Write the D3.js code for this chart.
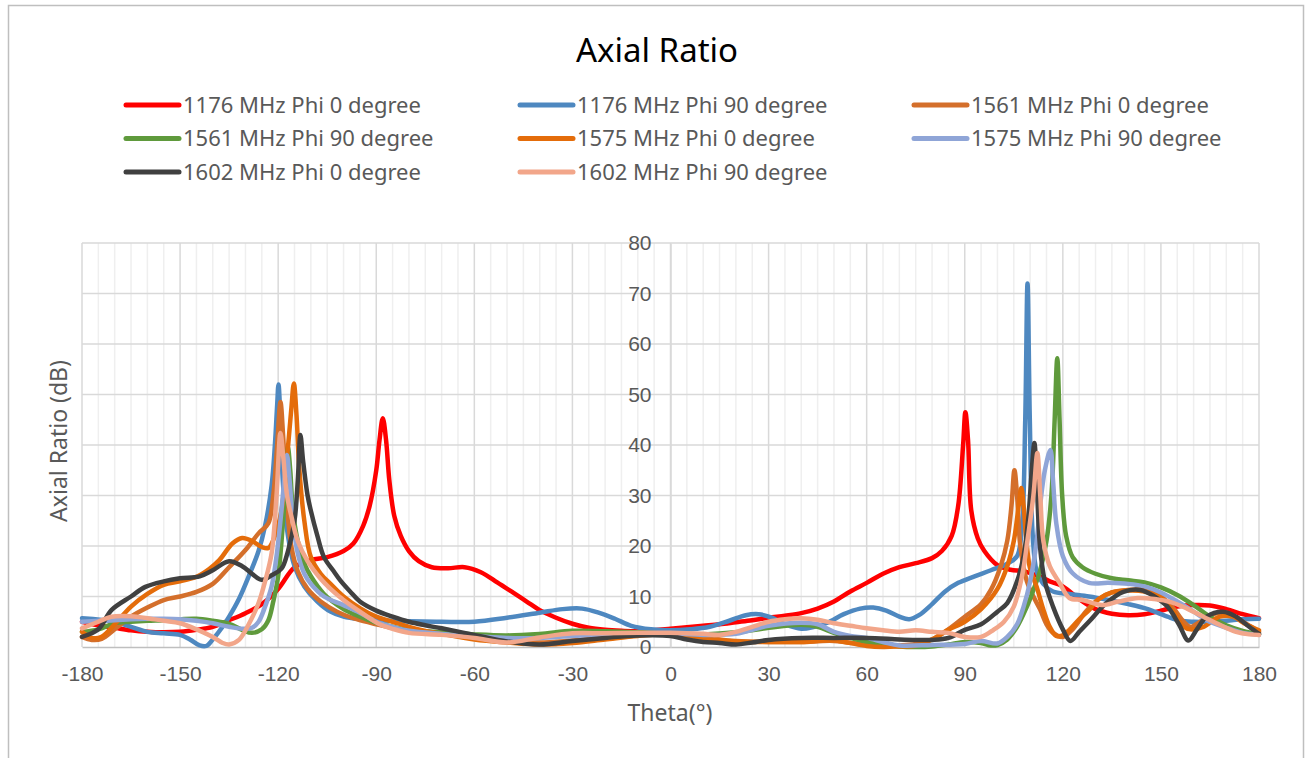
<!DOCTYPE html>
<html>
<head>
<meta charset="utf-8">
<script src="https://cdn.jsdelivr.net/npm/d3@7"></script>
<style>
body { margin: 0; background: #fff; }
svg { font-family: "Noto Sans", sans-serif; }
.tick text { fill: #595959; font-size: 21px; }
.legend text { fill: #595959; font-size: 22px; }
.axistitle { fill: #595959; font-size: 23px; }
</style>
</head>
<body>
<svg id="chart" width="1310" height="758"></svg>
<script>
// chart data
var thetaTicks = [-180, -150, -120, -90, -60, -30, 0, 30, 60, 90, 120, 150, 180];
var arTicks = [0, 10, 20, 30, 40, 50, 60, 70, 80];

var seriesNames = ['1176 MHz Phi 0 degree', '1176 MHz Phi 90 degree', '1561 MHz Phi 0 degree',
                   '1561 MHz Phi 90 degree', '1575 MHz Phi 0 degree', '1575 MHz Phi 90 degree',
                   '1602 MHz Phi 0 degree', '1602 MHz Phi 90 degree'];
var seriesColors = ['#ff0000', '#4e88c0', '#d46f2b', '#5f9a3c', '#e46c0a', '#8fa5d7', '#404040', '#f2a68a'];

// [theta, axial ratio dB]
var ar1176phi0 = [[-180,5],[-175,4.3],[-170,3.8],[-165,3.3],[-160,3],[-155,2.9],[-150,3],[-145,3.4],[-140,4],
  [-135,5.3],[-130,6.7],[-125,8.5],[-120,11.5],[-115,15.8],[-110,17.2],[-105,17.8],[-100,19],[-97,20.5],
  [-94,24],[-92,28],[-90,35],[-89,41],[-88,45.3],[-87,41],[-86,33],[-84.5,26],[-82.5,22],[-80,19],[-77,17],
  [-73,15.8],[-68,15.6],[-63,15.8],[-58,14.8],[-53,12.8],[-48,10.7],[-44,9],[-40,7.3],[-35,5.8],[-30,4.6],
  [-25,3.8],[-20,3.4],[-15,3.2],[-10,3.1],[-5,3.3],[0,3.6],[5,3.9],[10,4.2],[15,4.5],[20,4.9],[25,5.3],
  [30,5.8],[35,6.2],[40,6.7],[45,7.6],[50,9],[55,11],[60,12.7],[65,14.5],[70,15.8],[75,16.6],[80,17.6],
  [83,19],[86,22],[88,28],[89.5,40],[90.2,46.5],[91,41],[92,27],[94,21.5],[96,19],[100,16.2],[104,15.3],
  [108,15],[112,14.2],[116,13],[120,12],[125,9.5],[130,7.5],[135,6.6],[140,6.3],[145,6.5],[150,7.2],
  [155,8],[160,8.3],[165,8.2],[170,7.5],[175,6.5],[180,5.7]];

var ar1176phi90 = [[-180,5.7],[-170,5],[-165,4],[-160,3],[-155,2.7],[-150,2.4],[-147,1.5],[-144,0.3],
  [-142,0.2],[-140,1.5],[-137,4],[-135,6],[-132,9.5],[-129,14],[-126,19],[-124,24],[-122,32],[-121,40],
  [-120.3,48],[-119.9,52],[-119.3,45],[-118.5,32],[-117,22],[-115,16],[-112,12],[-108,9],[-104,7],[-100,6],
  [-95,5.5],[-90,5.3],[-80,5.1],[-70,5],[-60,5],[-50,5.8],[-40,6.8],[-33,7.5],[-27,7.6],[-22,6.8],[-17,5.6],
  [-12,4.2],[-6,3.5],[0,3.3],[6,3.5],[12,4],[18,5.2],[23,6.3],[27,6.5],[31,5.8],[35,4.5],[40,3.6],[44,4],
  [48,4.8],[53,6.5],[58,7.6],[62,7.8],[66,7.2],[70,6],[73,5.5],[76,6.3],[80,8.5],[84,11],[88,12.7],[93,14],
  [98,15.2],[103,16.5],[106,18],[107.5,24],[108.5,45],[109.2,72],[109.9,45],[110.8,22],[112,15],[114,12.5],
  [117,11],[122,10.5],[128,10],[134,9.3],[140,8.5],[146,7.5],[152,6],[156,5.2],[160,5],[165,5],[170,5.2],
  [175,5.5],[180,5.6]];

var ar1561phi0 = [[-180,2],[-177,1.4],[-174,1.6],[-170,3.5],[-165,6],[-160,7.8],[-155,9.3],[-150,10],
  [-145,10.9],[-140,12.5],[-135,15.8],[-130,19.2],[-126,22.5],[-123,24.5],[-121.5,30],[-120.3,40],
  [-119.3,48.5],[-118.5,42],[-117.5,30],[-116,20],[-114,15],[-111,11.5],[-107,9],[-102,7],[-96,5.5],
  [-90,4.5],[-85,3.8],[-80,3.3],[-70,2.6],[-60,1.8],[-50,1.2],[-40,0.9],[-30,1.3],[-20,1.8],[-10,2.3],
  [0,2.6],[10,2],[15,1.5],[20,1.2],[30,1],[40,1],[50,1.2],[60,0.4],[65,0.2],[70,0.3],[75,0.6],[80,1.5],
  [85,3.5],[90,6],[95,8.5],[98,11.3],[101,16],[103,21],[104.3,28],[105.2,35],[106,30],[107,20],[109,13],
  [111,10],[113,7.5],[115,4.5],[117,2.8],[120,2],[123,3.5],[127,7],[131,9.5],[135,10.8],[140,11.3],
  [145,11.3],[150,10],[154,7.5],[157,5],[159,4],[162,5],[166,6.5],[170,6.8],[175,5],[180,3]];

var ar1561phi90 = [[-180,3],[-175,3.5],[-170,4.7],[-165,5],[-160,5.2],[-155,5.3],[-150,5.5],[-145,5.6],
  [-140,5.2],[-135,4.6],[-131,3.4],[-128,2.8],[-125,3.5],[-123,5.3],[-121.5,9],[-120,14],[-118.5,25],
  [-117.5,35],[-117,39.5],[-116.3,35],[-115.5,27],[-114,21],[-112,16.5],[-110,14],[-106,10.5],[-100,7.5],
  [-95,6],[-90,4.8],[-85,4],[-80,3.4],[-70,2.9],[-60,2.5],[-50,2.3],[-40,2.6],[-30,3.2],[-20,3.1],[-10,2.9],
  [0,2.6],[10,2.5],[20,2.9],[30,3.8],[40,4.4],[45,4],[50,2.8],[55,1.8],[60,1],[65,0.5],[70,0.1],[75,0],
  [80,0.1],[85,0.5],[90,1],[95,0.8],[98,0.3],[100,0.4],[103,1.5],[106,4],[109,8],[111,11.3],[113,15],
  [115,21],[116.5,30],[117.5,45],[118.3,57.2],[119,45],[119.8,30],[121,22],[123,17.8],[126,15.8],[130,14.5],
  [135,13.6],[140,13.2],[145,12.8],[150,11.8],[155,10.3],[160,8.3],[165,6],[170,4.3],[175,3.2],[180,2.5]];

var ar1575phi0 = [[-180,3],[-177,1.8],[-174,2],[-170,4.5],[-165,8],[-160,10.5],[-155,12.3],[-150,13],
  [-145,13.9],[-141,15.5],[-138,17.2],[-134,20.5],[-131,21.6],[-128,21],[-125,19.8],[-123,19.6],[-121,22],
  [-119,27],[-117.5,36],[-116,47],[-115.2,52.2],[-114.4,46],[-113.5,35],[-112,25],[-110,17.8],[-107,14.5],
  [-104,12.5],[-100,10],[-95,7.7],[-90,6],[-85,5],[-80,4],[-75,3.2],[-70,2.6],[-60,1.5],[-50,0.9],[-40,0.5],
  [-30,0.8],[-20,1.5],[-10,2.2],[0,2.5],[10,1.8],[15,1.4],[20,1.1],[30,1],[40,1],[50,1.3],[60,0.2],[65,0],
  [70,0.1],[75,0.3],[80,1.5],[85,3.4],[90,5],[95,7.5],[100,11.5],[103,16],[105,21],[106.5,28],[107.3,31.5],
  [108,28],[109,20],[110,15.5],[112,11.9],[114,7.5],[116,4],[118,2.2],[120,2.3],[122,3.4],[125,5.5],
  [128,7.3],[131,9.5],[135,10.8],[140,11.2],[145,11],[150,9.8],[154,6.8],[157,4],[159,3.5],[163,4],[168,6],
  [172,6],[176,4.5],[180,3.3]];

var ar1575phi90 = [[-180,5],[-175,5.2],[-170,5.3],[-165,5.5],[-160,5.6],[-155,5.6],[-150,5.5],[-145,5.2],
  [-140,4.7],[-135,4],[-131,3.6],[-128,3.8],[-126,5],[-124,8],[-122,12],[-120.5,18],[-119,27],[-118,34],
  [-117.3,38],[-116.5,33],[-115.5,25],[-114,18.5],[-112,14.5],[-110,12.5],[-106,10],[-100,8.3],[-95,6.8],
  [-90,5],[-85,4],[-80,3.2],[-70,2.6],[-60,2.2],[-50,1.8],[-40,1.8],[-30,2.2],[-20,2.5],[-10,2.7],[0,2.7],
  [10,2.4],[20,2.6],[30,4.2],[40,4.8],[45,4.5],[50,3],[55,2.2],[60,1.8],[65,1],[70,0.3],[80,0.4],[90,0.6],
  [95,1.2],[100,0.7],[103,2],[106,4.5],[108,8],[110,13],[112,21],[113,27.7],[114.5,35],[116.2,39],[117,33],
  [118,24.5],[120,18],[123,14.6],[128,12.7],[134,12.7],[140,12.5],[145,12],[150,10.8],[155,9],[160,7],
  [164,5.3],[170,3.8],[175,2.8],[180,2.4]];

var ar1602phi0 = [[-180,2],[-175,3.5],[-171,7.3],[-165,10],[-160.6,11.9],[-155,13],[-150,13.6],[-144,14],
  [-140,15.2],[-135,17],[-131,16],[-128,14.5],[-125,13.3],[-122,14.2],[-119,15.5],[-117,19],[-115,25],
  [-114,33],[-113.2,42],[-112.4,37],[-111,30],[-110,27],[-108,22],[-106,17.8],[-103,15],[-101,13.2],[-98,11],
  [-95,9],[-90,7.2],[-85,6],[-80,5],[-75,4.3],[-70,3.7],[-60,2.4],[-50,1.1],[-40,0.5],[-30,1.2],[-20,1.8],
  [-10,2.3],[0,2.2],[5,1.5],[10,1],[15,0.8],[20,0.5],[25,0.9],[30,1.4],[40,1.8],[50,1.8],[60,1.8],[70,1.5],
  [75,1.4],[80,1.4],[85,1.8],[90,3.4],[95,4.5],[100,7],[103,8.7],[106,13],[108,18],[109.5,26],[110.5,35],
  [111.3,40.4],[112,33],[113,20],[114.5,13],[117,8],[120,3.5],[122.3,1.2],[125,3],[128.4,5.3],[133,8.5],
  [138.5,10.9],[143.7,11.3],[148,10],[152,8],[155.5,4.5],[158.4,1.3],[161,3.5],[164,6],[169,7],[173,6],
  [177,4],[180,2.6]];

var ar1602phi90 = [[-180,3.7],[-175,5],[-171,6],[-165,6.1],[-160,5.7],[-155,5.2],[-150,4.7],[-145,3.5],
  [-140,2],[-137,0.8],[-135,0.5],[-132,1.4],[-129,4.5],[-126,8.7],[-124,13],[-122,18.6],[-120.5,30],
  [-119.3,42.4],[-118.5,38],[-117.3,30],[-116,26],[-114,21],[-111,17],[-107,13.5],[-104,11.5],[-100,9.3],
  [-95,7],[-89,4.5],[-85,3.6],[-80,2.8],[-70,2.4],[-60,1.8],[-50,0.9],[-40,1.9],[-30,2.7],[-20,2.7],
  [-10,2.8],[0,2.8],[10,2.6],[15,2.4],[20,3],[25,4],[30,5],[35,5.5],[40,5.7],[45,5.4],[50,4.7],[55,4.2],
  [60,3.7],[65,3.3],[70,3],[75,3.3],[80,3],[85,2.8],[90,2],[95,2],[98.8,3.4],[102,5],[105,8],[107.5,14],
  [109.2,21.2],[111,30],[112.2,38.4],[113.1,30],[114,21.2],[116,16],[119,12.7],[122,9.7],[126,9.3],
  [132,8.3],[137,9],[143,9.7],[148,9.5],[153,8.9],[158,7.6],[163,6],[168,4.4],[173,3],[177,2.5],[180,2.4]];

var seriesData = [ar1176phi0, ar1176phi90, ar1561phi0, ar1561phi90, ar1575phi0, ar1575phi90, ar1602phi0, ar1602phi90];

var svg = d3.select('#chart');

// frame
svg.append('rect')
	.attr('x', 8.5).attr('y', 5.5)
	.attr('width', 1295).attr('height', 780)
	.attr('fill', 'none').attr('stroke', '#bfbfbf').attr('stroke-width', 1.5);

var x = d3.scaleLinear().domain([-180, 180]).range([82, 1259]);
var y = d3.scaleLinear().domain([0, 80]).range([647, 243]);

// grid
var grid = svg.append('g');
grid.selectAll('line.minor')
	.data(d3.range(-175, 180, 5).filter(function(d){ return d % 30 != 0; }))
	.enter().append('line')
	.attr('x1', x).attr('x2', x)
	.attr('y1', y(0)).attr('y2', y(80))
	.attr('stroke', '#efefef').attr('stroke-width', 1.5);
grid.selectAll('line.major')
	.data(thetaTicks)
	.enter().append('line')
	.attr('x1', x).attr('x2', x)
	.attr('y1', y(0)).attr('y2', y(80))
	.attr('stroke', '#d9d9d9').attr('stroke-width', 1.5);
grid.selectAll('line.hor')
	.data(arTicks.slice(1))
	.enter().append('line')
	.attr('x1', x(-180)).attr('x2', x(180))
	.attr('y1', y).attr('y2', y)
	.attr('stroke', '#d9d9d9').attr('stroke-width', 1.5);

// axes (plain hyphen for negatives, like the original)
var plain = function(d){ return String(d); };
var xAxis = svg.append('g')
	.attr('transform', 'translate(0,' + y(0) + ')')
	.call(d3.axisBottom(x).tickValues(thetaTicks).tickFormat(plain).tickSize(0).tickPadding(19));
xAxis.select('.domain').attr('stroke', '#bfbfbf').attr('stroke-width', 1.5);

var yAxis = svg.append('g')
	.attr('transform', 'translate(' + x(0) + ',0)')
	.call(d3.axisLeft(y).tickValues(arTicks).tickFormat(plain).tickSize(0).tickPadding(19));
yAxis.select('.domain').attr('stroke', '#d9d9d9').attr('stroke-width', 1.5);
svg.selectAll('.tick text').attr('font-family', null);

// series
var line = d3.line()
	.x(function(d){ return x(d[0]); })
	.y(function(d){ return y(d[1]); })
	.curve(d3.curveCatmullRom.alpha(0.5));

svg.append('g').selectAll('path')
	.data(seriesData)
	.enter().append('path')
	.attr('d', line)
	.attr('fill', 'none')
	.attr('stroke', function(d, i){ return seriesColors[i]; })
	.attr('stroke-width', 4.5)
	.attr('stroke-linejoin', 'round')
	.attr('stroke-linecap', 'round');

// titles
svg.append('text')
	.attr('x', 657).attr('y', 62)
	.attr('text-anchor', 'middle')
	.attr('font-size', 33)
	.attr('fill', '#000')
	.text('Axial Ratio');

svg.append('text')
	.attr('class', 'axistitle')
	.attr('x', 670).attr('y', 721)
	.attr('text-anchor', 'middle')
	.text('Theta(°)');

svg.append('text')
	.attr('class', 'axistitle')
	.attr('transform', 'translate(67,441) rotate(-90)')
	.attr('text-anchor', 'middle')
	.text('Axial Ratio (dB)');

// legend, 3 columns
var legend = svg.append('g').attr('class', 'legend');
var item = legend.selectAll('g')
	.data(seriesNames)
	.enter().append('g')
	.attr('transform', function(d, i){
		return 'translate(' + (124 + (i % 3) * 394) + ',' + (105 + Math.floor(i / 3) * 33.5) + ')';
	});
item.append('line')
	.attr('x1', 2).attr('x2', 55)
	.attr('stroke', function(d, i){ return seriesColors[i]; })
	.attr('stroke-width', 5)
	.attr('stroke-linecap', 'round');
item.append('text')
	.attr('x', 59).attr('dy', '0.35em')
	.text(function(d){ return d; });
</script>
</body>
</html>
